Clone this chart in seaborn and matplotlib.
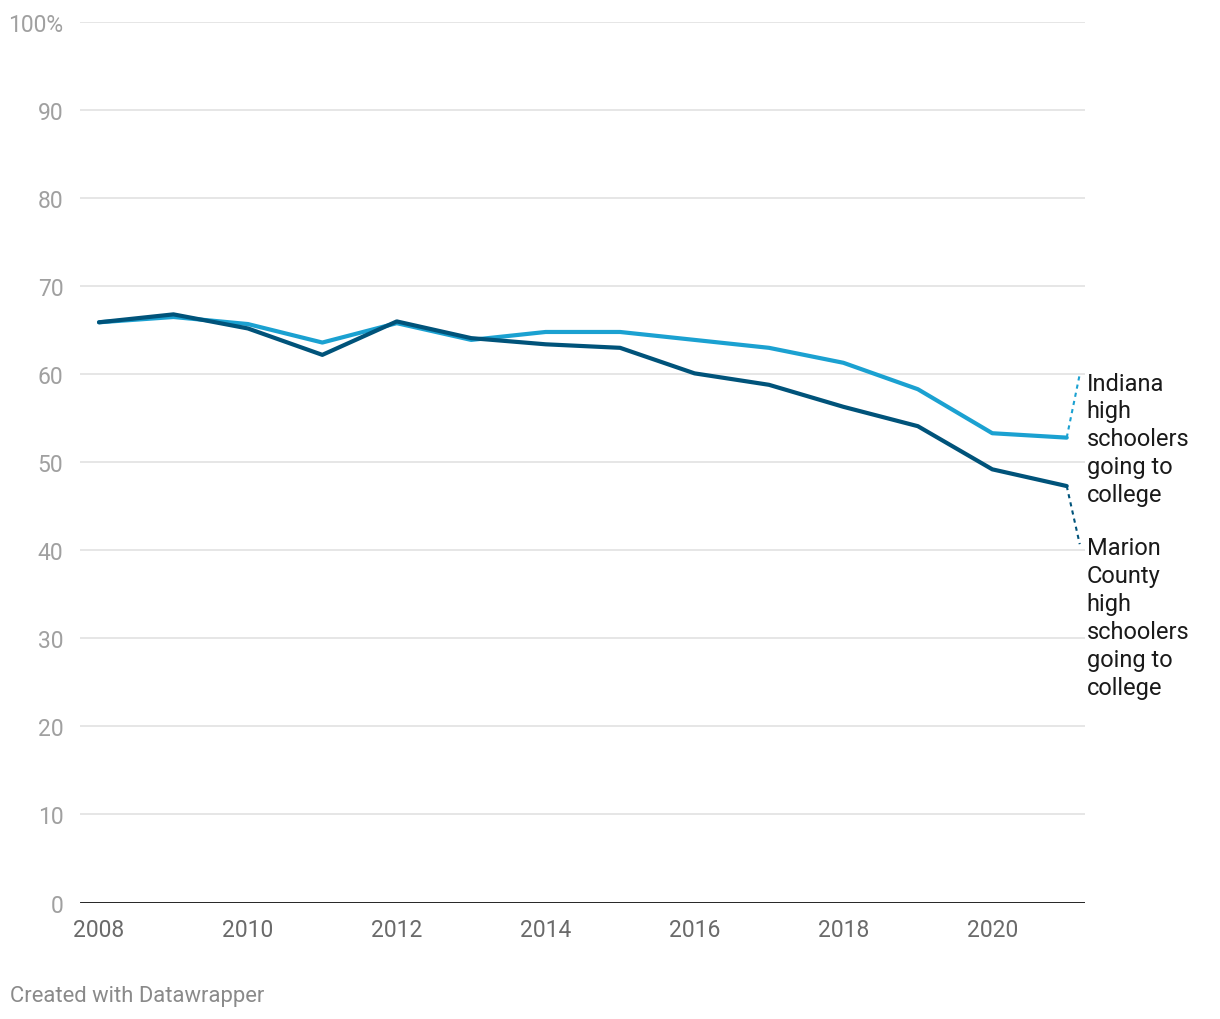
import pandas as pd
import matplotlib
matplotlib.use("Agg")
import matplotlib.pyplot as plt
import seaborn as sns

years = list(range(2008, 2022))
indiana = [65.9, 66.5, 65.7, 63.6, 65.8, 63.9, 64.8, 64.8, 63.9, 63.0, 61.3, 58.3, 53.3, 52.8]
marion = [65.9, 66.8, 65.2, 62.2, 66.0, 64.1, 63.4, 63.0, 60.1, 58.8, 56.3, 54.1, 49.2, 47.3]
series_names = ["Indiana high schoolers going to college",
                "Marion County high schoolers going to college"]
label_texts = ["Indiana\nhigh\nschoolers\ngoing to\ncollege",
               "Marion\nCounty\nhigh\nschoolers\ngoing to\ncollege"]
y_ticks = [0, 10, 20, 30, 40, 50, 60, 70, 80, 90, 100]
y_tick_labels = ["0", "10", "20", "30", "40", "50", "60", "70", "80", "90", "100%"]
x_ticks = [2008, 2010, 2012, 2014, 2016, 2018, 2020]

df = pd.DataFrame({
    "year": years * 2,
    "value": indiana + marion,
    "series": [series_names[0]] * len(years) + [series_names[1]] * len(years),
})

sns.set_theme(style="white")
plt.rcParams["font.family"] = ["Roboto", "DejaVu Sans"]

colors = {series_names[0]: "#1ba1d1", series_names[1]: "#00537a"}

fig = plt.figure(figsize=(12.2, 10.2), dpi=100)
ax = fig.add_axes([0.0656, 0.1142, 0.8234, 0.8632])

sns.lineplot(data=df, x="year", y="value", hue="series", palette=colors,
             linewidth=3, legend=False, ax=ax)

ax.set_xlim(2007.745, 2021.24)
ax.set_ylim(0, 100)
ax.set_yticks(y_ticks)
ax.set_yticklabels(y_tick_labels)
ax.set_xticks(x_ticks)
ax.set_xticklabels([str(x) for x in x_ticks])
ax.set_xlabel("")
ax.set_ylabel("")

for y in y_ticks[1:]:
    ax.axhline(y, color="#e1e1e1", linewidth=1.2, zorder=0)
ax.axhline(0, color="#111111", linewidth=2, zorder=3)

for s in ax.spines.values():
    s.set_visible(False)
ax.tick_params(axis="y", length=0, pad=12, labelsize=16.5, labelcolor="#a0a0a0")
ax.tick_params(axis="x", length=0, pad=11, labelsize=16.5, labelcolor="#6a6a6a")
for lab in ax.get_yticklabels():
    lab.set_horizontalalignment("right")

# dashed connectors from line ends to the labels
end_vals = [indiana[-1], marion[-1]]
label_y = [60.0, 40.7]
for name, v, ly in zip(series_names, end_vals, label_y):
    ax.plot([years[-1], 2021.175], [v, ly], color=colors[name],
            linestyle=(0, (2, 2)), linewidth=1.5, clip_on=False)

text_top = [60.3, 41.6]
for txt, ty in zip(label_texts, text_top):
    ax.text(2021.27, ty, txt, fontsize=17, color="#1a1a1a", va="top",
            ha="left", linespacing=1.27, clip_on=False)

fig.text(10 / 1220, 1 - 997 / 1020, "Created with Datawrapper", fontsize=15.8,
         color="#8a8a8a", va="center", ha="left")

fig.savefig("out.png", dpi=100, facecolor="white")
